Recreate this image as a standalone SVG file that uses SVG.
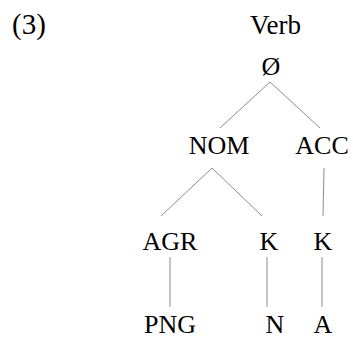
<svg xmlns="http://www.w3.org/2000/svg" width="353" height="343" viewBox="0 0 353 343">
<style>
.t{font-family:'Liberation Serif','Times New Roman',serif;font-size:26px;fill:#000;text-anchor:middle}
.e{stroke:#8c8c8c;stroke-width:1;fill:none}
</style>
<rect width="353" height="343" fill="#fff"/>
<g class="t">
<text x="12" y="34" style="text-anchor:start;font-size:29px">(3)</text>
<g id="verb"><text x="275.5" y="34" style="font-size:27px">Verb</text></g>
<g id="null"><text x="271" y="75">Ø</text></g>
<g id="nom"><text x="219" y="154">NOM</text></g>
<g id="acc"><text x="322" y="154">ACC</text></g>
<g id="agr"><text x="170" y="250">AGR</text></g>
<g id="k1"><text x="269" y="250">K</text></g>
<g id="k2"><text x="323" y="250">K</text></g>
<g id="png"><text x="170" y="333">PNG</text></g>
<g id="n"><text x="275" y="333">N</text></g>
<g id="a"><text x="323" y="333">A</text></g>
</g>
<g id="edges">
<line class="e" x1="270" y1="82" x2="220" y2="128"/>
<line class="e" x1="270" y1="82" x2="320" y2="128"/>
<line class="e" x1="212" y1="168" x2="161" y2="216"/>
<line class="e" x1="212" y1="168" x2="262" y2="216"/>
<line class="e" x1="324" y1="168" x2="323" y2="216"/>
<line class="e" x1="170" y1="257" x2="170" y2="307"/>
<line class="e" x1="267" y1="257" x2="267" y2="307"/>
<line class="e" x1="322" y1="257" x2="322" y2="307"/>
</g>
</svg>
